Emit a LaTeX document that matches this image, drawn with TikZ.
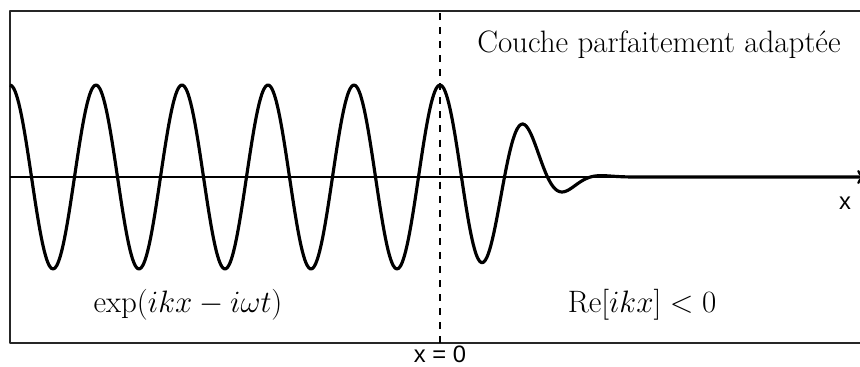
\documentclass[tikz,border=0pt]{standalone}
\usepackage{fontspec}
\setsansfont{Liberation Sans}
\usepackage{amsmath}
\usepackage{tikz}
\usetikzlibrary{arrows.meta, positioning}

\begin{document}
\begin{tikzpicture}[>=Stealth, line join=round]

% --- Style Definitions ---
\tikzstyle{frame_line}=[draw=black!85, line width=0.8pt]
\tikzstyle{axis_line}=[->, line width=1.3pt, >={To[length=5pt, width=8pt]}]
\tikzstyle{wave_line}=[line width=1.8pt, smooth]
\tikzstyle{interface_line}=[line width=1.2pt, dash pattern=on 4pt off 4pt]
\tikzstyle{math_label}=[font=\LARGE, scale=1.02, transform shape, inner sep=0pt]
\tikzstyle{sans_label}=[font=\sffamily\fontsize{13.5}{16}\selectfont, inner sep=0pt]

% --- Page size and clipping ---
\useasboundingbox (-8.8,-3.8) rectangle (8.4,3.54);
\clip (-8.8,-3.8) rectangle (8.4,3.54);

% --- Frame and axis ---
\draw[frame_line] (-8.6,-3.32) rectangle (8.8,3.32);
\coordinate (AxisL) at (-8.6,0);
\coordinate (AxisR) at (8.52,0);
\draw[axis_line] (AxisL) -- (AxisR);

% --- Interface x = 0 ---
\coordinate (IfTop) at (0,3.28);
\coordinate (IfBot) at (0,-3.36);
\draw[interface_line] (IfTop) -- (IfBot);

% --- Incident wave, then damped inside the layer ---
\draw[wave_line] plot[domain=-8.6:0, samples=240] (\x, {1.84*cos(3.653*\x r)})
  -- plot[domain=0:8.6, samples=240] (\x, {1.84*cos(3.653*\x r)*exp(-0.1154*\x*\x*\x)});

% --- Labels ---
\node[math_label, anchor=base] (PML) at (4.38,2.48) {Couche parfaitement adapt\'ee};
\node[math_label, anchor=base] (Wave) at (-5.04,-2.72) {$\exp(ikx-i\omega t)$};
\node[math_label, anchor=base] (Decay) at (4.04,-2.72) {$\mathrm{Re}[ikx]<0$};
\node[sans_label] (XLabel) at (8.1,-0.52) {x};
\node[sans_label, anchor=base] (XZero) at (0,-3.72) {x = 0};

\end{tikzpicture}
\end{document}
